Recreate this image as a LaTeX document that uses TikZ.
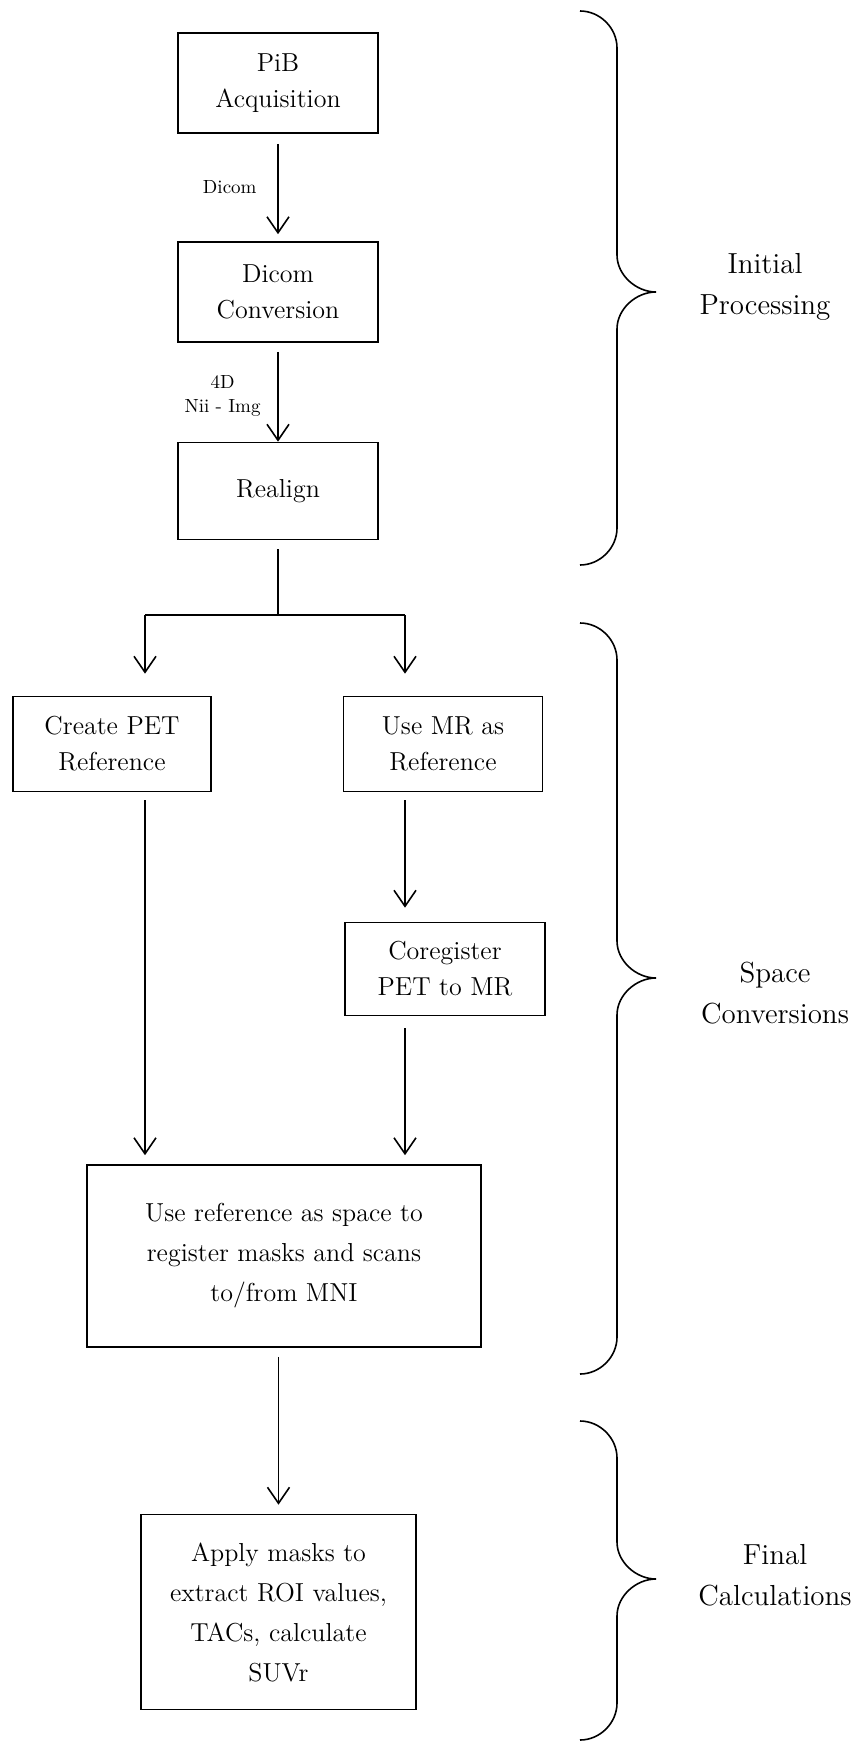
\documentclass[tikz,border=0pt]{standalone}
\usetikzlibrary{arrows.meta}

\begin{document}
\begin{tikzpicture}[x=0.5pt, y=-0.5pt,
    kasten/.style={draw, line width=0.8pt, align=center, inner sep=0pt,
        font=\fontsize{13}{18}\selectfont},
    pfeil/.style={line width=0.8pt, -{Straight Barb[length=8pt, width=11pt]}},
    linie/.style={line width=0.8pt},
    klein/.style={align=center, font=\fontsize{9.5}{12}\selectfont},
    phase/.style={align=center, font=\fontsize{14.5}{20.5}\selectfont}]

    \useasboundingbox (0,0) rectangle (856,1743);

    % 1. Kaesten der ersten Phase
    \node[kasten, minimum width=100pt, minimum height=50pt] (pib) at (278,83) {PiB\\Acquisition};
    \node[kasten, minimum width=100pt, minimum height=50pt] (dicom) at (278,292) {Dicom\\Conversion};
    \node[kasten, minimum width=100pt, minimum height=48.5pt] (realign) at (278,491) {Realign};

    % Verzweigungspunkte
    \coordinate (verzweigung) at (278,615);
    \coordinate (links) at (145,615);
    \coordinate (rechts) at (405,615);

    % 2. Kaesten der zweiten Phase
    \node[kasten, minimum width=99pt, minimum height=47.5pt] (pet) at (112,744) {Create PET\\Reference};
    \node[kasten, minimum width=99.5pt, minimum height=47.5pt] (mr) at (443,744) {Use MR as\\Reference};
    \node[kasten, minimum width=100pt, minimum height=46.5pt] (coreg) at (445,969) {Coregister\\PET to MR};
    \node[kasten, minimum width=197pt, minimum height=91pt, font=\fontsize{13}{20}\selectfont] (gross) at (284,1256)
        {Use reference as space to\\register masks and scans\\to/from MNI};

    % 3. Kasten der dritten Phase
    \node[kasten, minimum width=137.5pt, minimum height=97.5pt, font=\fontsize{13}{20}\selectfont] (apply) at (278.5,1612)
        {Apply masks to\\extract ROI values,\\TACs, calculate\\SUVr};

    % 4. Pfeile mit Beschriftung
    \draw[pfeil, shorten <=5pt, shorten >=3.5pt] (pib) -- (dicom) node[midway, left=7pt, klein] {Dicom};
    \draw[pfeil, shorten <=4.5pt, shorten >=0pt] (dicom) -- (realign) node[midway, left=5pt, klein, yshift=-2pt] {4D\\Nii - Img};

    % Verzweigung
    \draw[linie, shorten <=4.5pt] (realign) -- (verzweigung);
    \draw[linie] (links) -- (rechts);
    \draw[pfeil, shorten >=11pt] (links) -- (pet.north -| links);
    \draw[pfeil, shorten >=11pt] (rechts) -- (mr.north -| rechts);

    \draw[pfeil, shorten <=4pt, shorten >=7pt] (mr.south -| rechts) -- (coreg.north -| rechts);
    \draw[pfeil, shorten <=4pt, shorten >=4.5pt] (pet.south -| links) -- (gross.north -| links);
    \draw[pfeil, shorten <=6pt, shorten >=4.5pt] (coreg.south -| rechts) -- (gross.north -| rechts);
    \draw[pfeil, shorten <=4.5pt, shorten >=4.5pt] (gross.south -| apply) -- (apply);

    % 5. Geschweifte Klammern
    \draw[linie] (580,11) .. controls (600,11) and (617,28) .. (617,48) -- (617,255)
        .. controls (617,275) and (636,292) .. (656,292)
        .. controls (636,292) and (617,309) .. (617,329) -- (617,528)
        .. controls (617,548) and (600,565) .. (580,565);
    \draw[linie] (580,623) .. controls (600,623) and (617,640) .. (617,660) -- (617,941)
        .. controls (617,961) and (636,978) .. (656,978)
        .. controls (636,978) and (617,995) .. (617,1015) -- (617,1337)
        .. controls (617,1357) and (600,1374) .. (580,1374);
    \draw[linie] (580,1421) .. controls (600,1421) and (617,1438) .. (617,1458) -- (617,1542)
        .. controls (617,1562) and (636,1579) .. (656,1579)
        .. controls (636,1579) and (617,1596) .. (617,1616) -- (617,1703)
        .. controls (617,1723) and (600,1740) .. (580,1740);

    % Phasen
    \node[phase] (initial) at (765,287) {Initial\\Processing};
    \node[phase] (space) at (775,993) {Space\\Conversions};
    \node[phase] (final) at (775,1575) {Final\\Calculations};

\end{tikzpicture}
\end{document}
